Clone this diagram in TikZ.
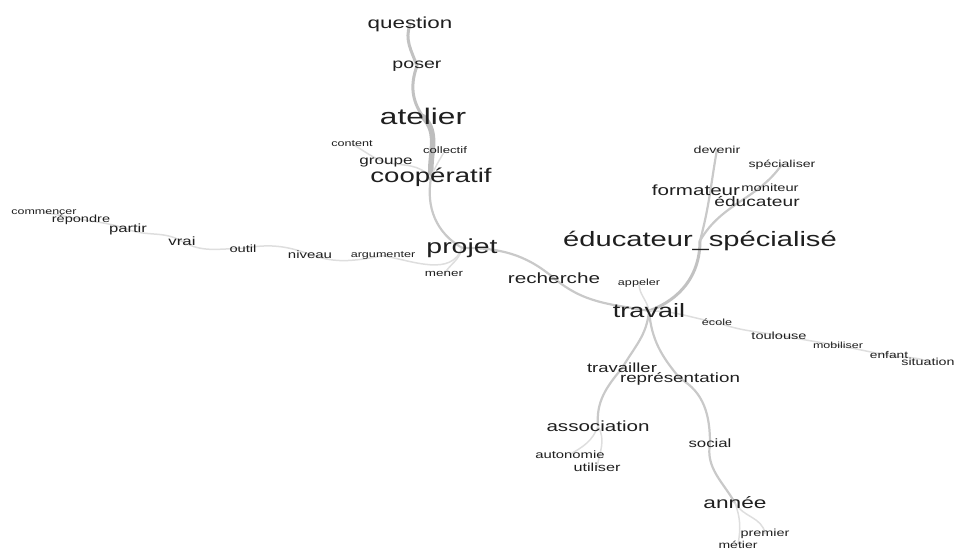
\documentclass[tikz,border=0pt]{standalone}
\usepackage{fontspec}
\setmainfont[FakeStretch=1.4]{Liberation Sans}
\pgfdeclarelayer{bg}
\pgfsetlayers{bg,main}
\tikzset{
  w/.style={inner sep=0pt, anchor=base, yshift=-0.3*#1pt, text=black!88,
            font=\fontsize{#1}{#1}\selectfont},
  e/.style={draw=black!21, line width=2.2pt, line cap=round},
  ethin/.style={draw=black!13, line width=1.5pt, line cap=round},
  emid/.style={draw=black!24, line width=3pt, line cap=round},
  ethick/.style={draw=black!26, line width=5.5pt, line cap=round},
}
\begin{document}
\begin{tikzpicture}[x=1pt,y=-1pt]
\useasboundingbox (0,0) rectangle (958,549);
% words
\node[w=16]   (question)  at (410,24)  {question};
\node[w=14]   (poser)     at (417,64)  {poser};
\node[w=22.6] (atelier)   at (423,118) {atelier};
\node[w=9]    (content)   at (352,144) {content};
\node[w=9.4]  (collectif) at (445,151) {collectif};
\node[w=12.2] (groupe)    at (386,161) {groupe};
\node[w=19.7] (coop)      at (431,177) {coopératif};
\node[w=20.3] (projet)    at (462,247) {projet};
\node[w=9]    (argum)     at (383,255) {argumenter};
\node[w=9.6]  (mener)     at (444,274) {mener};
\node[w=8.9]  (commencer) at (44,212)  {commencer};
\node[w=10.4] (repondre)  at (81,219)  {répondre};
\node[w=11.9] (partir)    at (128,229) {partir};
\node[w=12]   (vrai)      at (182,242) {vrai};
\node[w=10.5] (outil)     at (243,249) {outil};
\node[w=10.7] (niveau)    at (310,255) {niveau};
\node[w=14.8] (recherche) at (554,279) {recherche};
\node[w=9]    (appeler)   at (639,283) {appeler};
\node[w=19.3] (travail)   at (649,312) {travail};
\node[w=20.8] (esp)       at (700,240) {éducateur\_spécialisé};
\node[w=14.7] (formateur) at (696,191) {formateur};
\node[w=10.5] (moniteur)  at (770,188) {moniteur};
\node[w=13.7] (educateur) at (757,202) {éducateur};
\node[w=10.2] (devenir)   at (717,150) {devenir};
\node[w=10.1] (specialiser) at (782,164) {spécialiser};
\node[w=9]    (ecole)     at (717,323) {école};
\node[w=10.4] (toulouse)  at (779,336) {toulouse};
\node[w=8.9]  (mobiliser) at (838,346) {mobiliser};
\node[w=9.8]  (enfant)    at (889,356) {enfant};
\node[w=10.2] (situation) at (928,362) {situation};
\node[w=13.2] (travailler) at (622,369) {travailler};
\node[w=13.4] (repres)    at (680,378) {représentation};
\node[w=14.7] (association) at (598,427) {association};
\node[w=10.6] (autonomie) at (570,455) {autonomie};
\node[w=11.6] (utiliser)  at (597,468) {utiliser};
\node[w=12]   (social)    at (710,444) {social};
\node[w=16.2] (annee)     at (735,504) {année};
\node[w=10.3] (premier)   at (765,533) {premier};
\node[w=10]   (metier)    at (738,545) {métier};
% connectors
\begin{pgfonlayer}{bg}
\draw[emid] (question.center) to[out=-110,in=110] (poser.center);
\draw[emid] (poser.center) to[out=-110,in=125] (atelier.center);
\draw[ethick] (atelier.center) to[out=-45,in=95] (coop.center);
\draw[e] (coop.center) to[out=-100,in=150] (projet.center);
\draw[ethin] (projet.center) to[out=-100,in=60] (mener.center);
\draw[ethin] (argum.center) to[out=-10,in=-110] (projet.center);
\draw[ethin] (niveau.center) to[out=-20,in=-170] (argum.center);
\draw[ethin] (outil.center) to[out=10,in=160] (niveau.center);
\draw[ethin] (vrai.center) to[out=-30,in=180] (outil.center);
\draw[ethin] (partir.center) to[out=-20,in=150] (vrai.center);
\draw[ethin] (repondre.center) to[out=-10,in=160] (partir.center);
\draw[ethin] (commencer.center) to[out=-10,in=170] (repondre.center);
\draw[ethin] (groupe.center) to[out=-10,in=130] (coop.center);
\draw[ethin] (content.center) to[out=-30,in=160] (groupe.center);
\draw[ethin] (collectif.center) to[out=-120,in=70] (coop.center);
\draw[e] (projet.center) to[out=0,in=140] (recherche.center);
\draw[e] (recherche.center) to[out=-40,in=170] (travail.center);
\draw[ethin] (appeler.center) to[out=-90,in=100] (travail.center);
\draw[emid] (esp.center) to[out=-90,in=20] (travail.center);
\draw[e] (esp.center) to[out=75,in=-100] (devenir.center);
\draw[e] (esp.center) to[out=60,in=-125] (specialiser.center);
\draw[ethin] (travail.center) to[out=0,in=170] (ecole.center);
\draw[ethin] (ecole.center) to[out=-20,in=170] (toulouse.center);
\draw[ethin] (toulouse.center) to[out=-10,in=170] (mobiliser.center);
\draw[ethin] (mobiliser.center) to[out=-10,in=170] (enfant.center);
\draw[ethin] (enfant.center) to[out=-10,in=160] (situation.center);
\draw[e] (travail.center) to[out=-95,in=60] (travailler.center);
\draw[e] (travail.center) to[out=-85,in=130] (repres.center);
\draw[e] (travailler.center) to[out=-130,in=95] (association.center);
\draw[ethin] (association.center) to[out=-110,in=30] (autonomie.center);
\draw[ethin] (association.center) to[out=-60,in=80] (utiliser.center);
\draw[e] (repres.center) to[out=-30,in=90] (social.center);
\draw[e] (social.center) to[out=-100,in=120] (annee.center);
\draw[ethin] (annee.center) to[out=-70,in=80] (metier.center);
\draw[ethin] (annee.center) to[out=-60,in=100] (premier.center);
\end{pgfonlayer}
\end{tikzpicture}
\end{document}
